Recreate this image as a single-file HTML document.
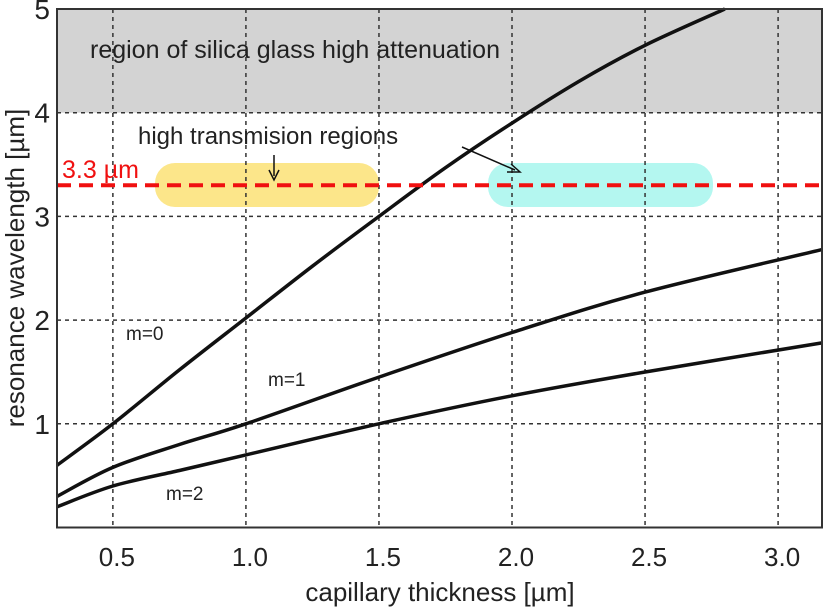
<!DOCTYPE html>
<html><head><meta charset="utf-8"><style>
body{margin:0;background:#fff;font-family:"Liberation Sans",sans-serif}
</style></head><body>
<svg id="c" width="825" height="609" style="display:block"></svg>
<script>
const xTicks=[0.5,1.0,1.5,2.0,2.5,3.0];
const xTickLabels=["0.5","1.0","1.5","2.0","2.5","3.0"];
const yTicks=[1,2,3,4,5];
const yTickLabels=["1","2","3","4","5"];
const m0x=[0.29,0.5,0.75,1.0,1.25,1.5,1.75,2.0,2.25,2.5,2.8];
const m0y=[0.6,1.0,1.52,2.02,2.52,3.0,3.47,3.9,4.3,4.65,5.0];
const m1x=[0.29,0.5,0.75,1.0,1.5,2.0,2.5,3.165];
const m1y=[0.3,0.58,0.8,1.0,1.45,1.88,2.27,2.68];
const m2x=[0.29,0.5,0.75,1.0,1.5,2.0,2.5,3.165];
const m2y=[0.2,0.4,0.55,0.7,1.0,1.27,1.5,1.78];
const cutoff=3.3, attenuation=4;
const X0=57,X1=822,Y0=527.5,Y1=9,xmin=0.29,xmax=3.165,ymin=0,ymax=5;
const sx=v=>X0+(v-xmin)/(xmax-xmin)*(X1-X0);
const sy=v=>Y0-(v-ymin)/(ymax-ymin)*(Y0-Y1);
const svg=document.getElementById('c');const NS='http://www.w3.org/2000/svg';
function mk(t,a,txt){const e=document.createElementNS(NS,t);for(const k in a)e.setAttribute(k,a[k]);if(txt)e.textContent=txt;svg.appendChild(e);return e;}
let e;
e=mk('rect',{x:X0,y:sy(ymax),width:X1-X0,height:sy(attenuation)-sy(ymax),fill:'#d3d3d3'});


e=mk('rect',{x:155,y:163,width:224,height:44,rx:20,fill:'#fce68a'});


e=mk('rect',{x:488,y:163,width:225,height:44,rx:20,fill:'#b4f7f0'});


xTicks.forEach((v,i)=>{
 e=mk('line',{x1:sx(v),x2:sx(v),y1:Y1,y2:Y0,stroke:'#333','stroke-width':1.5,'stroke-dasharray':'4,4'});
 
 
 e=mk('text',{x:sx(v)+4,y:566,'font-size':26,'text-anchor':'middle',fill:'#222'},xTickLabels[i]);
 
 
});
yTicks.forEach((v,i)=>{
 if(v<5){e=mk('line',{x1:X0,x2:X1,y1:sy(v),y2:sy(v),stroke:'#333','stroke-width':1.5,'stroke-dasharray':'4,4'});
 
 }
 e=mk('text',{x:50,y:sy(v)+10,'font-size':28,'text-anchor':'end',fill:'#222'},yTickLabels[i]);
 
 
});
function curve(xs,ys,name,col){
 const p=xs.map((v,i)=>[sx(v),sy(ys[i])]);
 let d='M'+p[0][0].toFixed(1)+','+p[0][1].toFixed(1);
 for(let i=0;i<p.length-1;i++){const a=p[Math.max(0,i-1)],b=p[i],c=p[i+1],q=p[Math.min(p.length-1,i+2)];
  d+='C'+(b[0]+(c[0]-a[0])/6).toFixed(1)+','+(b[1]+(c[1]-a[1])/6).toFixed(1)+' '+(c[0]-(q[0]-b[0])/6).toFixed(1)+','+(c[1]-(q[1]-b[1])/6).toFixed(1)+' '+c[0].toFixed(1)+','+c[1].toFixed(1);}
 e=mk('path',{d:d,fill:'none',stroke:col,'stroke-width':3.5});
 
 }
curve(m0x,m0y,'curve-m0','#111');
curve(m1x,m1y,'curve-m1','#111');
curve(m2x,m2y,'curve-m2','#111');
e=mk('line',{x1:X0,x2:X1,y1:sy(cutoff),y2:sy(cutoff),stroke:'#f01010','stroke-width':4,'stroke-dasharray':'14,8'});


e=mk('rect',{x:X0,y:Y1,width:X1-X0,height:Y0-Y1,fill:'none',stroke:'#333','stroke-width':2});


e=mk('text',{x:90,y:58,'font-size':25,fill:'#222'},'region of silica glass high attenuation');


e=mk('text',{x:138,y:144,'font-size':24,fill:'#222'},'high transmision regions');


e=mk('text',{x:62,y:178,'font-size':25,fill:'#f01010'},'3.3 µm');


e=mk('path',{d:'M274,155L274,176M269,170L274,180L279,170M462,147L515,170M507,172L520,172L511,164',fill:'none',stroke:'#111','stroke-width':1.5});


[['m=0',126,340,'label-m0'],['m=1',268,386,'label-m1'],['m=2',166,500,'label-m2']].forEach(a=>{
 e=mk('text',{x:a[1],y:a[2],'font-size':19,fill:'#222'},a[0]);
 
 });
e=mk('text',{x:440,y:601,'font-size':26,'text-anchor':'middle',fill:'#222'},'capillary thickness [µm]');


e=mk('text',{x:0,y:0,'font-size':26,'text-anchor':'middle',fill:'#222',transform:'translate(24,268) rotate(-90)'},'resonance wavelength [µm]');


</script>
</body></html>
